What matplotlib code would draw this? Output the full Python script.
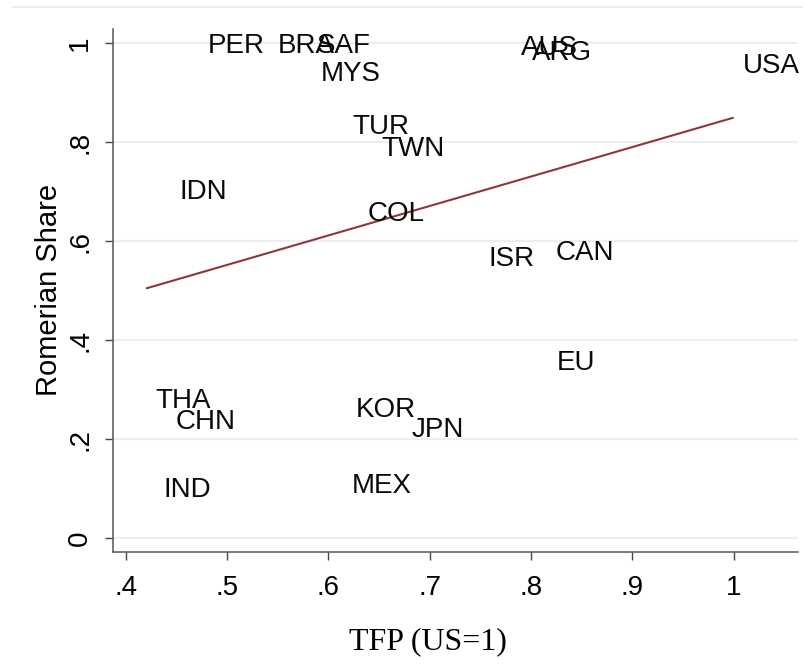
import matplotlib
matplotlib.use("Agg")
import matplotlib.pyplot as plt
import numpy as np
from matplotlib.lines import Line2D

# Data
countries = ["PER", "BRA", "SAF", "MYS", "TUR", "TWN", "IDN", "COL", "AUS", "ARG",
             "USA", "ISR", "CAN", "THA", "CHN", "IND", "KOR", "MEX", "JPN", "EU"]
tfp = [0.472, 0.541, 0.579, 0.583, 0.614, 0.643, 0.444, 0.629, 0.781, 0.791,
       1.000, 0.749, 0.815, 0.420, 0.440, 0.428, 0.618, 0.614, 0.673, 0.816]
romer_share = [1.00, 1.00, 1.00, 0.943, 0.836, 0.793, 0.706, 0.662, 0.996, 0.986,
               0.960, 0.570, 0.583, 0.284, 0.240, 0.104, 0.265, 0.112, 0.224, 0.360]
xticks = [0.4, 0.5, 0.6, 0.7, 0.8, 0.9, 1.0]
xticklabels = [".4", ".5", ".6", ".7", ".8", ".9", "1"]
yticks = [0.0, 0.2, 0.4, 0.6, 0.8, 1.0]
yticklabels = ["0", ".2", ".4", ".6", ".8", "1"]

W, H = 804, 664
fig = plt.figure(figsize=(W / 100, H / 100), dpi=100)
fig.patch.set_facecolor("white")

left, right, bottom, top = 112.7, 798.0, 552.3, 29.0
ax = fig.add_axes([left / W, 1 - bottom / H, (right - left) / W, (bottom - top) / H])
ax.set_xlim(0.3872, 1.0635)
ax.set_ylim(-0.0283, 1.029)

sans = "Liberation Sans"
serif = "Liberation Serif"

# grid
for yv in yticks:
    ax.axhline(yv, color="#eaf0f2", lw=1.6, zorder=0)

# fitted line
x_arr = np.array(tfp)
y_arr = np.array(romer_share)
b, a = np.polyfit(x_arr, y_arr, 1)
fx = np.array([x_arr.min(), x_arr.max()])
ax.plot(fx, a + b * fx, color="#90353B", lw=1.5, zorder=2, solid_capstyle="butt")

# labels
for name, xv, yv in zip(countries, tfp, romer_share):
    ax.annotate(name, (xv, yv), xytext=(9.6, -9.9), textcoords="offset pixels",
                ha="left", va="baseline", fontsize=20, family=sans,
                color="#0a0a0a", zorder=3, annotation_clip=False)

for s in ["top", "right"]:
    ax.spines[s].set_visible(False)
for s in ["left", "bottom"]:
    ax.spines[s].set_color("#555555")
    ax.spines[s].set_linewidth(1.1)

ax.set_xticks(xticks)
ax.set_xticklabels(xticklabels, family=sans, fontsize=20)
ax.set_yticks(yticks)
ax.set_yticklabels(yticklabels, family=sans, fontsize=20, rotation=90, va="center")
ax.tick_params(axis="both", length=6, width=1.0, color="#444444")
ax.tick_params(axis="x", pad=10)
ax.tick_params(axis="y", pad=8)

fig.text(49 / W, 1 - 290 / H, "Romerian Share", rotation=90, ha="center", va="center",
         family=sans, fontsize=21)
fig.text(428 / W, 1 - 642 / H, "TFP (US=1)", ha="center", va="center",
         family=serif, fontsize=23)

fig.add_artist(Line2D([12 / W, 1], [1 - 7 / H, 1 - 7 / H], color="#e8ecee", lw=1.2,
                      transform=fig.transFigure))

fig.savefig("out.png", dpi=100, facecolor="white")
